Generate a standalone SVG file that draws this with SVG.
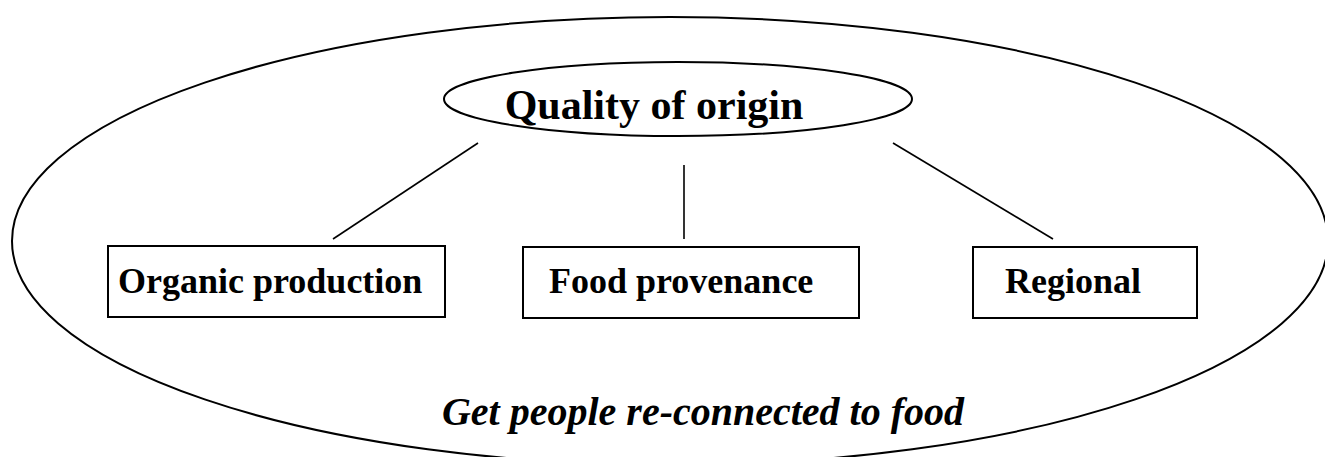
<svg xmlns="http://www.w3.org/2000/svg" width="1325" height="457" viewBox="0 0 1325 457">
<style>
.sh{fill:none;stroke:#000;stroke-width:2}
.ln{stroke:#000;stroke-width:1.6;fill:none}
.t{font-family:"Liberation Serif",serif;font-weight:bold;fill:#000}
</style>
<rect width="1325" height="457" fill="#fff"/>
<g id="context">
<ellipse class="sh" cx="670" cy="241" rx="658" ry="224"/>
<text class="t" x="703" y="425" font-size="40" font-style="italic" text-anchor="middle">Get people re-connected to food</text>
</g>
<g id="connectors">
<line class="ln" x1="478" y1="143" x2="333" y2="239"/>
<line class="ln" x1="684" y1="165" x2="684" y2="239"/>
<line class="ln" x1="893" y1="143" x2="1053" y2="239"/>
</g>
<g id="quality">
<ellipse class="sh" cx="678" cy="99" rx="234" ry="37"/>
<text class="t" x="654" y="119" font-size="42" text-anchor="middle">Quality of origin</text>
</g>
<g id="organic">
<rect class="sh" x="108" y="246" width="337" height="71"/>
<text class="t" x="118" y="293" font-size="36">Organic production</text>
</g>
<g id="provenance">
<rect class="sh" x="523" y="247" width="336" height="71"/>
<text class="t" x="549" y="293" font-size="36">Food provenance</text>
</g>
<g id="regional">
<rect class="sh" x="973" y="247" width="224" height="71"/>
<text class="t" x="1005" y="293" font-size="36">Regional</text>
</g>
</svg>
